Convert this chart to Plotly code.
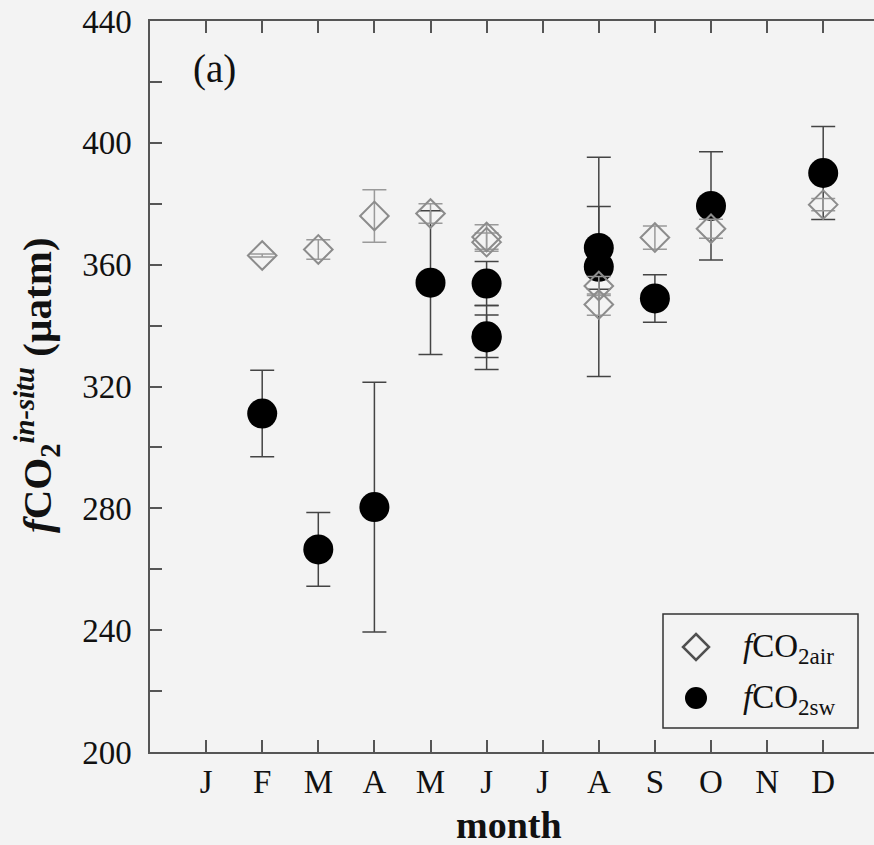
import plotly.graph_objects as go

# ---- data ----
month_labels = ["J", "F", "M", "A", "M", "J", "J", "A", "S", "O", "N", "D"]
month_ticks = [1, 2, 3, 4, 5, 6, 7, 8, 9, 10, 11, 12]

air_month = [2, 3, 4, 5, 6, 6, 8, 8, 9, 10, 12]
air_val = [363.0, 365.0, 376.0, 376.8, 369.1, 367.4, 353.0, 346.9, 368.9, 371.8, 379.7]
air_err = [0.5, 3.2, 8.6, 3.2, 4.0, 3.0, 3.1, 3.5, 3.8, 3.1, 2.0]

sw_month = [2, 3, 4, 5, 6, 6, 6, 8, 8, 9, 10, 12]
sw_val = [311.1, 266.5, 280.4, 354.1, 353.8, 336.5, 336.1, 365.5, 359.3, 348.9, 379.3, 390.1]
sw_err = [14.2, 12.1, 41.0, 23.6, 7.2, 7.0, 10.5, 13.6, 36.0, 7.8, 17.8, 15.3]

y_ticks = [200, 240, 280, 320, 360, 400, 440]
right_ticks = [225, 250, 275, 300, 325, 350, 375, 400, 425]

# ---- layout constants ----
W, H = 874, 845
L, R, T, B = 150, 0, 21, 93
PW, PH = W - L - R, H - T - B
SERIF = "Liberation Serif, Times New Roman, serif"
BG = "#f3f3f3"
AX = "#555555"


def px(x):
    return (x - L) / PW


def py(y):
    return (H - B - y) / PH


fig = go.Figure()

fig.add_trace(go.Scatter(
    x=sw_month, y=sw_val, mode="markers", name="sw",
    marker=dict(symbol="circle", size=30, color="black", line=dict(width=0)),
    error_y=dict(type="data", array=sw_err, visible=True, color="#444444",
                 thickness=1.5, width=12),
    showlegend=False,
))
fig.add_trace(go.Scatter(
    x=air_month, y=air_val, mode="markers", name="air",
    marker=dict(symbol="diamond-open", size=22, color="#8c8c8c",
                line=dict(width=2, color="#8c8c8c")),
    error_y=dict(type="data", array=air_err, visible=True, color="#9a9a9a",
                 thickness=1.5, width=12),
    showlegend=False,
))

fig.update_layout(
    width=W, height=H,
    margin=dict(l=L, r=R, t=T, b=B, pad=0),
    paper_bgcolor=BG, plot_bgcolor=BG,
    font=dict(family=SERIF, color="#111111"),
    showlegend=False,
    xaxis=dict(
        range=[0, PW / 56.1], tickvals=month_ticks, ticktext=month_labels,
        ticks="inside", ticklen=12, tickwidth=1.5, tickcolor=AX,
        showline=True, linecolor=AX, linewidth=1.5, mirror="ticks",
        showgrid=False, zeroline=False,
        tickfont=dict(family=SERIF, size=33, color="#111111"),
        ticklabelstandoff=0,
    ),
    yaxis=dict(
        range=[200, 440], tickvals=y_ticks,
        ticks="inside", ticklen=12, tickwidth=1.5, tickcolor=AX,
        minor=dict(dtick=20, ticks="inside", ticklen=12, tickwidth=1.5, tickcolor=AX),
        showline=True, linecolor=AX, linewidth=1.5, mirror=False,
        showgrid=False, zeroline=False,
        tickfont=dict(family=SERIF, size=33, color="#111111"),
        ticklabelstandoff=10,
    ),
    yaxis2=dict(
        range=[200, 440], overlaying="y", side="right", tickvals=right_ticks,
        ticks="inside", ticklen=6, tickwidth=1.5, tickcolor=AX,
        showticklabels=False, showline=False, showgrid=False, zeroline=False,
    ),
)

annotations = [
    dict(x=px(214), y=py(69), text="(a)", font=dict(size=39, family=SERIF, color="#111111")),
    dict(x=px(509), y=py(825), text="<b>month</b>", font=dict(size=38, family=SERIF, color="#111111")),
    dict(x=px(37), y=py(385), textangle=-90,
         text="<b><i>f</i>CO<sub>2</sub><sup><i>in-situ</i></sup> (µatm)</b>",
         font=dict(size=41, family=SERIF, color="#111111")),
    dict(x=px(741), y=py(648), xanchor="left",
         text="<i>f</i>CO<sub>2air</sub>", font=dict(size=33, family=SERIF, color="#111111")),
    dict(x=px(741), y=py(699), xanchor="left",
         text="<i>f</i>CO<sub>2sw</sub>", font=dict(size=33, family=SERIF, color="#111111")),
]
for a in annotations:
    a.setdefault("xanchor", "center")
    a.update(xref="paper", yref="paper", yanchor="middle", showarrow=False)
fig.update_layout(annotations=annotations)

# legend box and symbols
cx, cy1, cy2 = 696, 647, 698
d = 13
diamond = "M {} {} L {} {} L {} {} L {} {} Z".format(
    px(cx), py(cy1 - d), px(cx + d), py(cy1), px(cx), py(cy1 + d), px(cx - d), py(cy1))
shapes = [
    dict(type="rect", x0=px(663), x1=px(858), y0=py(728), y1=py(614),
         line=dict(color="#333333", width=1.5), fillcolor="rgba(0,0,0,0)"),
    dict(type="path", path=diamond, line=dict(color="#505050", width=2.5)),
    dict(type="circle", x0=px(cx - 11), x1=px(cx + 11), y0=py(cy2 + 11), y1=py(cy2 - 11),
         fillcolor="black", line=dict(width=0)),
]
for s in shapes:
    s.update(xref="paper", yref="paper")
fig.update_layout(shapes=shapes)

fig.write_html("out.html")
